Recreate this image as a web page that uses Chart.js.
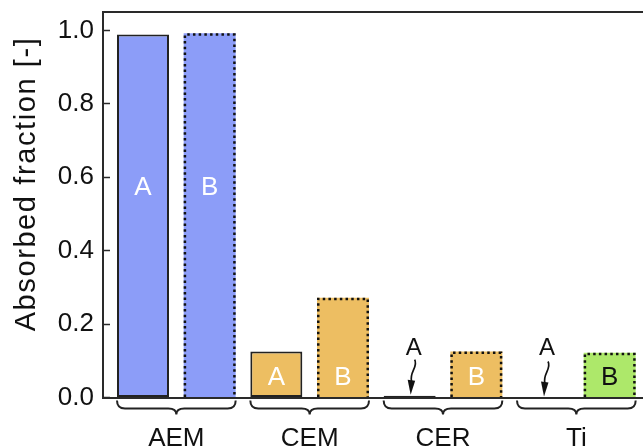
<!DOCTYPE html>
<html>
<head>
<meta charset="utf-8">
<script src="https://cdn.jsdelivr.net/npm/chart.js@4/dist/chart.umd.min.js"></script>
<style>
  html, body { margin: 0; padding: 0; background: #fff; }
  canvas { display: block; }
</style>
</head>
<body>
<canvas id="c" width="643" height="447"></canvas>
<script>
// ---- data ----
const categories = ['AEM', 'CEM', 'CER', 'Ti'];
const variants = ['A', 'B'];
const valuesA = [0.989, 0.125, 0.005, 0.0];
const valuesB = [0.992, 0.272, 0.125, 0.122];
const yTicks = [0.0, 0.2, 0.4, 0.6, 0.8, 1.0];
const yTitle = 'Absorbed fraction [-]';

// ---- styles ----
const FONT = '"Liberation Sans", Arial, Helvetica, sans-serif';
const groupColors = ['#8C9DF8', '#EDBE62', '#EDBE62', '#ADE86A'];
const letterColors = ['#ffffff', '#ffffff', '#ffffff', '#111111'];
const AX = '#2a2a2a';

// build interleaved bars from the arrays
const points = [];
const bg = [];
const bw = [];
const meta = [];
categories.forEach((cat, g) => {
  [valuesA[g], valuesB[g]].forEach((v, k) => {
    points.push({ x: 2 * g + k, y: v });
    bg.push(groupColors[g]);
    bw.push(k === 0 ? 2 : 0);
    meta.push({ group: g, variant: k });
  });
});

const decorPlugin = {
  id: 'decor',
  afterDatasetsDraw(chart) {
    const ctx = chart.ctx;
    const els = chart.getDatasetMeta(0).data;
    const ys = chart.scales.y;
    // dotted borders for B bars
    ctx.save();
    els.forEach((el, i) => {
      if (meta[i].variant !== 1) return;
      const p = el.getProps(['x', 'y', 'base', 'width'], true);
      const lw = 2.5;
      const l = p.x - p.width / 2 + lw / 2;
      const r = p.x + p.width / 2 - lw / 2;
      const t = p.y + lw / 2;
      const b = p.base;
      ctx.strokeStyle = '#111';
      ctx.lineWidth = lw;
      ctx.setLineDash([2.5, 3.2]);
      ctx.beginPath();
      ctx.moveTo(l, b);
      ctx.lineTo(l, t);
      ctx.lineTo(r, t);
      ctx.lineTo(r, b);
      ctx.stroke();
    });
    ctx.restore();

    // letters A / B
    ctx.save();
    ctx.textAlign = 'center';
    ctx.textBaseline = 'middle';
    els.forEach((el, i) => {
      const p = el.getProps(['x', 'y', 'base', 'width'], true);
      const v = points[i].y;
      const letter = variants[meta[i].variant];
      if (v < 0.03) {
        // label above with a wavy arrow pointing down to the (near-zero) bar
        ctx.fillStyle = '#111';
        ctx.font = '24px ' + FONT;
        ctx.fillText(letter, p.x + 4, ys.getPixelForValue(0.134));
        const tipY = ys.getPixelForValue(v) - 1;
        const x0 = p.x + 4;
        ctx.strokeStyle = '#111';
        ctx.lineWidth = 1.7;
        ctx.setLineDash([]);
        ctx.beginPath();
        ctx.moveTo(x0 + 1, tipY - 35);
        ctx.bezierCurveTo(x0 + 5, tipY - 28, x0 - 5, tipY - 22, x0 - 2, tipY - 13);
        ctx.stroke();
        ctx.beginPath();
        ctx.moveTo(x0 - 6, tipY - 15);
        ctx.lineTo(x0 + 1.5, tipY - 14);
        ctx.lineTo(x0 - 3, tipY);
        ctx.closePath();
        ctx.fillStyle = '#111';
        ctx.fill();
      } else {
        ctx.fillStyle = letterColors[meta[i].group];
        ctx.font = '26px ' + FONT;
        const ly = v > 0.5 ? 0.57 : 0.054;
        ctx.fillText(letter, p.x, ys.getPixelForValue(ly));
      }
    });
    ctx.restore();
  },
  afterDraw(chart) {
    const ctx = chart.ctx;
    const ca = chart.chartArea;
    const xs = chart.scales.x;
    const els = chart.getDatasetMeta(0).data;
    ctx.save();
    // top frame line
    ctx.strokeStyle = AX;
    ctx.lineWidth = 2;
    ctx.beginPath();
    ctx.moveTo(ca.left - 1, ca.top);
    ctx.lineTo(ca.right, ca.top);
    ctx.stroke();

    // y axis title (real text)
    ctx.save();
    ctx.translate(35, 184);
    ctx.rotate(-Math.PI / 2);
    ctx.fillStyle = '#111';
    ctx.font = '29px ' + FONT;
    if ('letterSpacing' in ctx) ctx.letterSpacing = '1.6px';
    ctx.textAlign = 'center';
    ctx.textBaseline = 'alphabetic';
    ctx.fillText(yTitle, 0, 0);
    ctx.restore();

    // braces and group labels
    categories.forEach((cat, g) => {
      const a = els[2 * g].getProps(['x', 'width'], true);
      const b = els[2 * g + 1].getProps(['x', 'width'], true);
      const L = a.x - a.width / 2;
      const R = b.x + b.width / 2;
      const C = xs.getPixelForValue(2 * g + 0.5);
      const t = ca.bottom + 3;
      const m = ca.bottom + 11;
      const bt = ca.bottom + 17;
      const r = 8;
      ctx.strokeStyle = '#222';
      ctx.lineWidth = 2;
      ctx.beginPath();
      ctx.moveTo(L, t);
      ctx.quadraticCurveTo(L, m, L + r, m);
      ctx.lineTo(C - r, m);
      ctx.quadraticCurveTo(C, m, C, bt);
      ctx.quadraticCurveTo(C, m, C + r, m);
      ctx.lineTo(R - r, m);
      ctx.quadraticCurveTo(R, m, R, t);
      ctx.stroke();

      ctx.fillStyle = '#111';
      ctx.font = '26px ' + FONT;
      ctx.textAlign = 'center';
      ctx.textBaseline = 'alphabetic';
      ctx.fillText(cat, C, ca.bottom + 48);
    });
    ctx.restore();
  }
};

new Chart(document.getElementById('c'), {
  type: 'bar',
  data: {
    datasets: [{
      data: points,
      backgroundColor: bg,
      borderColor: '#222',
      borderWidth: bw,
      borderSkipped: false,
      categoryPercentage: 1.0,
      barPercentage: 0.78
    }]
  },
  options: {
    responsive: false,
    animation: false,
    devicePixelRatio: 1,
    layout: { padding: { top: 12, bottom: 49.5, left: 0, right: 0 } },
    plugins: { legend: { display: false }, tooltip: { enabled: false } },
    scales: {
      x: {
        type: 'linear',
        offset: false,
        min: -0.6,
        max: 7.5,
        afterBuildTicks(s) { s.ticks = points.map(p => ({ value: p.x })); },
        ticks: { display: false },
        grid: { display: true, offset: false, drawOnChartArea: false, drawTicks: false },
        border: { display: true, color: AX, width: 2 },
        afterFit(s) { s.height = 0; s.paddingLeft = 0; s.paddingRight = 0; }
      },
      y: {
        min: 0,
        max: 1.05,
        afterBuildTicks(s) { s.ticks = yTicks.map(v => ({ value: v })); },
        ticks: {
          color: '#111',
          padding: 16,
          font: { size: 26, family: FONT },
          callback: v => Number(v).toFixed(1)
        },
        grid: { drawOnChartArea: false, tickLength: -7, tickWidth: 1.5, tickColor: AX },
        border: { display: true, color: AX, width: 2 },
        title: { display: false },
        afterFit(s) { s.width = 103; s.paddingTop = 0; s.paddingBottom = 0; }
      }
    }
  },
  plugins: [decorPlugin]
});
</script>
</body>
</html>
